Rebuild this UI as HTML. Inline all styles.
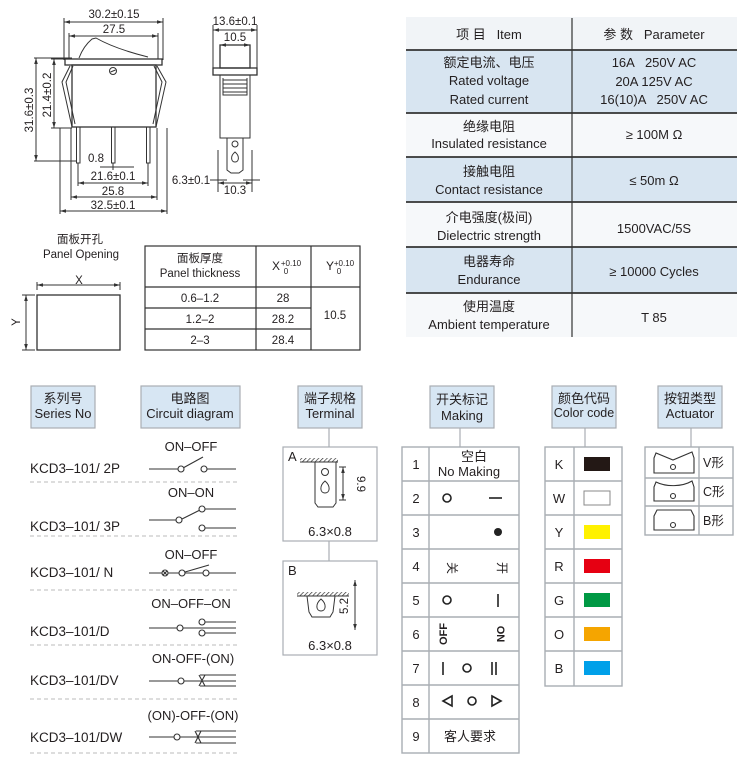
<!DOCTYPE html>
<html><head><meta charset="utf-8"><style>
html,body{margin:0;padding:0;background:#fff}
svg{display:block}
text{font-family:"Liberation Sans","Noto Sans CJK SC",sans-serif;fill:#231f20;white-space:pre}
</style></head><body>
<svg width="750" height="764" viewBox="0 0 750 764" xmlns="http://www.w3.org/2000/svg" xml:space="preserve">
<defs>
<marker id="ar" viewBox="0 0 10 10" refX="10" refY="5" markerWidth="6" markerHeight="6" orient="auto-start-reverse"><path d="M0,2 L10,5 L0,8 z" fill="#333"/></marker>
<pattern id="hatch" width="3" height="3" patternUnits="userSpaceOnUse" patternTransform="rotate(45)"><line x1="0" y1="0" x2="0" y2="3" stroke="#333" stroke-width="1.4"/></pattern>
</defs>

<!-- ============ front view drawing ============ -->
<g stroke="#333" stroke-width="1" fill="none">
 <line x1="64" y1="18" x2="64" y2="60"/><line x1="163" y1="18" x2="163" y2="60"/>
 <line x1="69" y1="33" x2="69" y2="59"/><line x1="158" y1="33" x2="158" y2="59"/>
 <line x1="64" y1="22" x2="163" y2="22" marker-start="url(#ar)" marker-end="url(#ar)"/>
 <line x1="69" y1="36" x2="158" y2="36" marker-start="url(#ar)" marker-end="url(#ar)"/>
 <path d="M79,58 C82,50 86,44 92,39 L96,38 C110,46 128,52 148,57"/>
 <rect x="65" y="59" width="97" height="6" stroke-width="1.3"/>
 <rect x="72" y="65" width="84" height="62" stroke-width="1.3"/>
 <circle cx="113" cy="71" r="3.5"/><line x1="110.5" y1="72" x2="115.5" y2="70"/>
 <path d="M70,66 L62,82 L72,127 M73,66 L66,82 L75,124"/>
 <path d="M157,66 L166,82 L156,127 M154,66 L162,82 L153,124"/>
 <rect x="76.5" y="127" width="3.5" height="36"/><rect x="111.5" y="127" width="3.5" height="36"/><rect x="146.5" y="127" width="3.5" height="36"/>
 <line x1="34" y1="58" x2="72" y2="58"/><line x1="34" y1="161" x2="77" y2="161"/>
 <line x1="51" y1="59" x2="64" y2="59"/><line x1="51" y1="128" x2="72" y2="128"/>
 <line x1="36" y1="58" x2="36" y2="161" marker-start="url(#ar)" marker-end="url(#ar)"/>
 <line x1="54" y1="59" x2="54" y2="128" marker-start="url(#ar)" marker-end="url(#ar)"/>
 <line x1="113" y1="163" x2="113" y2="170"/><line x1="148" y1="163" x2="148" y2="186"/><line x1="78" y1="163" x2="78" y2="186"/>
 <line x1="60" y1="128" x2="60" y2="214"/><line x1="167" y1="128" x2="167" y2="214"/>
 <line x1="71" y1="128" x2="71" y2="200"/><line x1="157" y1="128" x2="157" y2="200"/>
 <line x1="100" y1="167" x2="134" y2="167"/>
 <line x1="78" y1="183" x2="148" y2="183" marker-start="url(#ar)" marker-end="url(#ar)"/>
 <line x1="71" y1="197" x2="157" y2="197" marker-start="url(#ar)" marker-end="url(#ar)"/>
 <line x1="60" y1="211" x2="167" y2="211" marker-start="url(#ar)" marker-end="url(#ar)"/>
</g>
<g font-size="11.5" text-anchor="middle">
 <text x="114" y="18">30.2±0.15</text>
 <text x="114" y="33">27.5</text>
 <text x="96" y="162">0.8</text>
 <text x="113" y="180">21.6±0.1</text>
 <text x="113" y="195">25.8</text>
 <text x="113" y="209">32.5±0.1</text>
 <text transform="translate(33,110) rotate(-90)">31.6±0.3</text>
 <text transform="translate(51,95) rotate(-90)">21.4±0.2</text>
</g>

<!-- ============ side view ============ -->
<g stroke="#333" stroke-width="1" fill="none">
 <line x1="213" y1="25" x2="213" y2="70"/><line x1="257" y1="25" x2="257" y2="70"/>
 <line x1="213" y1="30" x2="257" y2="30" marker-start="url(#ar)" marker-end="url(#ar)"/>
 <line x1="220" y1="45" x2="250" y2="45" marker-start="url(#ar)" marker-end="url(#ar)"/>
 <rect x="220" y="45" width="30" height="23" stroke-width="1.3"/>
 <rect x="213" y="68" width="44" height="7" stroke-width="1.3"/>
 <path d="M220,75 L220,138 L250,138 L250,75"/>
 <path d="M223,78 L223,95 L247,95 L247,78"/>
 <line x1="223" y1="80" x2="247" y2="80"/><line x1="223" y1="84" x2="247" y2="84"/><line x1="223" y1="88" x2="247" y2="88"/><line x1="223" y1="92" x2="247" y2="92"/>
 <path d="M227,138 L227,170 L231,173 L239,173 L243,170 L243,138"/>
 <circle cx="235" cy="144" r="3"/>
 <path d="M235,152 C230,156 231,162 235,162 C239,162 240,156 235,152 z"/>
 <line x1="218" y1="150" x2="218" y2="192"/><line x1="252" y1="150" x2="252" y2="192"/>
 <line x1="210" y1="180" x2="227" y2="180"/><line x1="243" y1="180" x2="260" y2="180"/>
 <line x1="218" y1="183" x2="252" y2="183" marker-start="url(#ar)" marker-end="url(#ar)"/>
</g>
<g font-size="11.5" text-anchor="middle">
 <text x="235" y="25">13.6±0.1</text>
 <text x="235" y="41">10.5</text>
 <text x="191" y="184">6.3±0.1</text>
 <text x="235" y="194">10.3</text>
</g>

<!-- ============ panel opening ============ -->
<g font-size="11.5" text-anchor="middle">
 <text x="80" y="243">面板开孔</text>
 <text x="81" y="258">Panel Opening</text>
 <text x="79" y="284">X</text>
 <text transform="translate(20,322) rotate(-90)">Y</text>
</g>
<g stroke="#333" stroke-width="1" fill="none">
 <line x1="37" y1="282" x2="37" y2="290"/><line x1="120" y1="282" x2="120" y2="290"/>
 <line x1="37" y1="285" x2="120" y2="285" marker-start="url(#ar)" marker-end="url(#ar)"/>
 <line x1="22" y1="295" x2="35" y2="295"/><line x1="22" y1="350" x2="35" y2="350"/>
 <line x1="26" y1="295" x2="26" y2="350" marker-start="url(#ar)" marker-end="url(#ar)"/>
 <rect x="37" y="295" width="83" height="55" stroke-width="1.3"/>
</g>
<g stroke="#333" stroke-width="1.2" fill="none">
 <rect x="145" y="246" width="215" height="104"/>
 <line x1="256" y1="246" x2="256" y2="350"/><line x1="311" y1="246" x2="311" y2="350"/>
 <line x1="145" y1="287" x2="360" y2="287"/>
 <line x1="145" y1="308" x2="311" y2="308"/><line x1="145" y1="329" x2="311" y2="329"/>
</g>
<g font-size="11.5" text-anchor="middle">
 <text x="200" y="262">面板厚度</text>
 <text x="200" y="277">Panel thickness</text>
 <text x="276" y="270" font-size="12">X</text><text x="291" y="266" font-size="8">+0.10</text><text x="286" y="274" font-size="8">0</text>
 <text x="330" y="270" font-size="12">Y</text><text x="344" y="266" font-size="8">+0.10</text><text x="339" y="274" font-size="8">0</text>
 <text x="200" y="302">0.6–1.2</text><text x="283" y="302">28</text>
 <text x="200" y="323">1.2–2</text><text x="283" y="323">28.2</text>
 <text x="200" y="344">2–3</text><text x="283" y="344">28.4</text>
 <text x="335" y="319">10.5</text>
</g>

<!-- ============ spec table ============ -->
<g>
 <rect x="406" y="17" width="331" height="33" fill="#f1f4f7"/>
 <rect x="406" y="50" width="331" height="63" fill="#d8e5f1"/>
 <rect x="406" y="113" width="331" height="44" fill="#f6f8fa"/>
 <rect x="406" y="157" width="331" height="45" fill="#d8e5f1"/>
 <rect x="406" y="202" width="331" height="45" fill="#f6f8fa"/>
 <rect x="406" y="247" width="331" height="46" fill="#d8e5f1"/>
 <rect x="406" y="293" width="331" height="44" fill="#f6f8fa"/>
 <g stroke="#333" stroke-width="1.8">
  <line x1="406" y1="50" x2="737" y2="50"/><line x1="406" y1="113" x2="737" y2="113"/>
  <line x1="406" y1="157" x2="737" y2="157"/><line x1="406" y1="202" x2="737" y2="202"/>
  <line x1="406" y1="247" x2="737" y2="247"/><line x1="406" y1="293" x2="737" y2="293"/>
  <line x1="572" y1="18" x2="572" y2="337" stroke-width="1.2"/>
 </g>
 <g font-size="13" text-anchor="middle">
  <text x="489" y="39">项 目   Item</text>
  <text x="654" y="39">参 数   Parameter</text>
  <text x="489" y="67">额定电流、电压</text><text x="489" y="85">Rated voltage</text><text x="489" y="104">Rated current</text>
  <text x="654" y="67">16A   250V AC</text><text x="654" y="86">20A 125V AC</text><text x="654" y="104">16(10)A   250V AC</text>
  <text x="489" y="131">绝缘电阻</text><text x="489" y="148">Insulated resistance</text>
  <text x="654" y="139">≥ 100M Ω</text>
  <text x="489" y="176">接触电阻</text><text x="489" y="194">Contact resistance</text>
  <text x="654" y="185">≤ 50m Ω</text>
  <text x="489" y="222">介电强度(极间)</text><text x="489" y="240">Dielectric strength</text>
  <text x="654" y="233">1500VAC/5S</text>
  <text x="489" y="266">电器寿命</text><text x="489" y="284">Endurance</text>
  <text x="654" y="276">≥ 10000 Cycles</text>
  <text x="489" y="311">使用温度</text><text x="489" y="329">Ambient temperature</text>
  <text x="654" y="322">T 85</text>
 </g>
</g>

<!-- ============ bottom headers ============ -->
<g fill="#d7e6f3" stroke="#a9aeb3" stroke-width="1.2">
 <rect x="31" y="386" width="64" height="42"/>
 <rect x="141" y="386" width="99" height="42"/>
 <rect x="298" y="386" width="64" height="42"/>
 <rect x="430" y="386" width="64" height="42"/>
 <rect x="552" y="386" width="64" height="42"/>
 <rect x="658" y="386" width="64" height="42"/>
</g>
<g font-size="13" text-anchor="middle">
 <text x="63" y="403">系列号</text><text x="63" y="418">Series No</text>
 <text x="190" y="403">电路图</text><text x="190" y="418">Circuit diagram</text>
 <text x="330" y="403">端子规格</text><text x="330" y="418">Terminal</text>
 <text x="462" y="404">开关标记</text><text x="462" y="420">Making</text>
 <text x="584" y="403">颜色代码</text><text x="584" y="417" font-size="12.5">Color code</text>
 <text x="690" y="403">按钮类型</text><text x="690" y="418">Actuator</text>
</g>
<g stroke="#a9aeb3" stroke-width="1.2">
 <line x1="329" y1="428" x2="329" y2="447"/><line x1="329" y1="541" x2="329" y2="561"/>
 <line x1="460" y1="428" x2="460" y2="447"/>
 <line x1="585" y1="428" x2="585" y2="447"/>
 <line x1="691" y1="428" x2="691" y2="447"/>
</g>

<g font-size="13.5">
 <text x="30" y="473">KCD3–101/ 2P</text>
 <text x="30" y="531">KCD3–101/ 3P</text>
 <text x="30" y="577">KCD3–101/ N</text>
 <text x="30" y="636">KCD3–101/D</text>
 <text x="30" y="685">KCD3–101/DV</text>
 <text x="30" y="742">KCD3–101/DW</text>
</g>
<g font-size="13" text-anchor="middle">
 <text x="191" y="451">ON–OFF</text>
 <text x="191" y="497">ON–ON</text>
 <text x="191" y="559">ON–OFF</text>
 <text x="191" y="608">ON–OFF–ON</text>
 <text x="193" y="663">ON-OFF-(ON)</text>
 <text x="193" y="720">(ON)-OFF-(ON)</text>
</g>
<g stroke="#bbb" stroke-width="1" stroke-dasharray="4,3">
 <line x1="30" y1="482" x2="238" y2="482"/><line x1="30" y1="536" x2="238" y2="536"/>
 <line x1="30" y1="590" x2="238" y2="590"/><line x1="30" y1="645" x2="238" y2="645"/>
 <line x1="30" y1="699" x2="238" y2="699"/><line x1="30" y1="753" x2="238" y2="753"/>
</g>
<g stroke="#333" stroke-width="1.1" fill="#fff">
 <line x1="149" y1="469" x2="178" y2="469"/><line x1="183" y1="468" x2="203" y2="457"/><line x1="207" y1="469" x2="236" y2="469"/>
 <circle cx="181" cy="469" r="3"/><circle cx="204" cy="469" r="3"/>
 <line x1="149" y1="520" x2="176" y2="520"/><line x1="182" y1="519" x2="200" y2="510"/>
 <line x1="205" y1="509" x2="236" y2="509"/><line x1="205" y1="528" x2="236" y2="528"/>
 <circle cx="179" cy="520" r="3"/><circle cx="202" cy="509" r="3"/><circle cx="202" cy="528" r="3"/>
 <line x1="149" y1="573" x2="236" y2="573"/><line x1="185" y1="572" x2="209" y2="565"/>
 <circle cx="165" cy="573" r="3"/><line x1="163" y1="571" x2="167" y2="575"/><line x1="167" y1="571" x2="163" y2="575"/>
 <circle cx="182" cy="573" r="3"/><circle cx="206" cy="573" r="3"/>
 <line x1="149" y1="628" x2="236" y2="628"/><line x1="205" y1="622" x2="236" y2="622"/><line x1="205" y1="633" x2="236" y2="633"/>
 <circle cx="180" cy="628" r="3"/><circle cx="202" cy="622" r="3"/><circle cx="202" cy="633" r="3"/>
 <line x1="149" y1="681" x2="236" y2="681"/><line x1="200" y1="675" x2="236" y2="675"/><line x1="200" y1="686" x2="236" y2="686"/>
 <circle cx="181" cy="681" r="3"/><path d="M199,675 L205,686 M205,675 L199,686" fill="none"/>
 <line x1="149" y1="737" x2="236" y2="737"/><line x1="196" y1="731" x2="236" y2="731"/><line x1="196" y1="743" x2="236" y2="743"/>
 <circle cx="177" cy="737" r="3"/><path d="M195,731 L201,743 M201,731 L195,743" fill="none"/>
</g>

<g stroke="#a9aeb3" stroke-width="1.2" fill="#fff">
 <rect x="283" y="447" width="94" height="94"/>
 <rect x="283" y="561" width="94" height="94"/>
</g>
<g stroke="#333" stroke-width="1" fill="none">
 <rect x="300" y="458" width="38" height="4" fill="url(#hatch)" stroke="none"/>
 <line x1="300" y1="462" x2="338" y2="462"/>
 <path d="M315,462 L315,503 L318,507 L333,507 L336,503 L336,462"/>
 <circle cx="325" cy="472" r="3.5"/>
 <path d="M325,481 C319,486 320,493 325,493 C330,493 331,486 325,481 z"/>
 <line x1="339" y1="467" x2="346" y2="467"/><line x1="339" y1="500" x2="346" y2="500"/>
 <line x1="343" y1="467" x2="343" y2="500" marker-start="url(#ar)" marker-end="url(#ar)"/>
 <rect x="297" y="592" width="52" height="4" fill="url(#hatch)" stroke="none"/>
 <line x1="297" y1="596" x2="349" y2="596"/>
 <path d="M307,596 L309,612 L312,617 L330,617 L333,612 L335,596"/>
 <path d="M321,599 C315,604 316,611 321,611 C326,611 327,604 321,599 z"/>
 <line x1="355" y1="580" x2="355" y2="630" marker-start="url(#ar)" marker-end="url(#ar)"/>
</g>
<g font-size="13">
 <text x="288" y="461">A</text>
 <text x="288" y="575">B</text>
 <text x="330" y="536" text-anchor="middle">6.3×0.8</text>
 <text x="330" y="650" text-anchor="middle">6.3×0.8</text>
 <text transform="translate(357,484) rotate(90)" text-anchor="middle" font-size="11.5">9.9</text>
 <text transform="translate(348,606) rotate(-90)" text-anchor="middle" font-size="11.5">5.2</text>
</g>

<g stroke="#a9aeb3" stroke-width="1.4" fill="none">
 <rect x="402" y="447" width="117" height="306"/>
 <line x1="429" y1="447" x2="429" y2="753"/>
 <line x1="402" y1="481" x2="519" y2="481"/><line x1="402" y1="515" x2="519" y2="515"/>
 <line x1="402" y1="549" x2="519" y2="549"/><line x1="402" y1="583" x2="519" y2="583"/>
 <line x1="402" y1="617" x2="519" y2="617"/><line x1="402" y1="651" x2="519" y2="651"/>
 <line x1="402" y1="685" x2="519" y2="685"/><line x1="402" y1="719" x2="519" y2="719"/>
</g>
<g font-size="13" text-anchor="middle">
 <text x="416" y="469">1</text><text x="416" y="503">2</text><text x="416" y="537">3</text>
 <text x="416" y="571">4</text><text x="416" y="605">5</text><text x="416" y="639">6</text>
 <text x="416" y="673">7</text><text x="416" y="707">8</text><text x="416" y="741">9</text>
 <text x="474" y="461">空白</text><text x="469" y="476">No Making</text>
 <text x="470" y="741">客人要求</text>
 <text transform="translate(448,568) rotate(90)" text-anchor="middle" font-size="12">关</text>
 <text transform="translate(498,568) rotate(90)" text-anchor="middle" font-size="12">开</text>
 <text transform="translate(447,634) rotate(-90)" text-anchor="middle" font-size="11" font-weight="bold">OFF</text>
 <text transform="translate(497,634) rotate(90)" text-anchor="middle" font-size="11" font-weight="bold">ON</text>
</g>
<g stroke="#222" stroke-width="1.6" fill="none">
 <circle cx="447" cy="498" r="4"/><line x1="489" y1="498" x2="502" y2="498"/>
 <circle cx="498" cy="532" r="4" fill="#222" stroke="none"/>
 <circle cx="447" cy="600" r="4"/><line x1="498" y1="594" x2="498" y2="607"/>
 <line x1="443" y1="662" x2="443" y2="675"/><circle cx="467" cy="668" r="4"/><line x1="492" y1="662" x2="492" y2="675"/><line x1="496" y1="662" x2="496" y2="675"/>
 <path d="M452,696 L443,701 L452,706 z"/><circle cx="472" cy="701" r="4"/><path d="M492,696 L501,701 L492,706 z"/>
</g>

<g stroke="#a9aeb3" stroke-width="1.4" fill="none">
 <rect x="545" y="447" width="77" height="239"/>
 <line x1="574" y1="447" x2="574" y2="686"/>
 <line x1="545" y1="481" x2="622" y2="481"/><line x1="545" y1="515" x2="622" y2="515"/>
 <line x1="545" y1="549" x2="622" y2="549"/><line x1="545" y1="583" x2="622" y2="583"/>
 <line x1="545" y1="617" x2="622" y2="617"/><line x1="545" y1="651" x2="622" y2="651"/>
</g>
<g font-size="13" text-anchor="middle">
 <text x="559" y="469">K</text><text x="559" y="503">W</text><text x="559" y="537">Y</text>
 <text x="559" y="571">R</text><text x="559" y="605">G</text><text x="559" y="639">O</text><text x="559" y="673">B</text>
</g>
<rect x="584" y="457" width="26" height="14" fill="#231815"/>
<rect x="584" y="491" width="26" height="14" fill="#fff" stroke="#888"/>
<rect x="584" y="525" width="26" height="14" fill="#fff100"/>
<rect x="584" y="559" width="26" height="14" fill="#e60012"/>
<rect x="584" y="593" width="26" height="14" fill="#009944"/>
<rect x="584" y="627" width="26" height="14" fill="#f5a500"/>
<rect x="584" y="661" width="26" height="14" fill="#00a0e9"/>

<g stroke="#a9aeb3" stroke-width="1.4" fill="none">
 <rect x="645" y="447" width="88" height="88"/>
 <line x1="699" y1="447" x2="699" y2="535"/>
 <line x1="645" y1="478" x2="733" y2="478"/><line x1="645" y1="506" x2="733" y2="506"/>
</g>
<g stroke="#333" stroke-width="1.1" fill="none">
 <path d="M654,473 L654,458 L656,453 L673,460 L692,452 L694,458 L694,473 z"/>
 <circle cx="673" cy="467" r="2.5"/>
 <path d="M654,501 L654,487 L656,482 C666,487 682,487 692,481 L694,487 L694,501 z"/>
 <circle cx="673" cy="496" r="2.5"/>
 <path d="M654,530 L654,516 L657,510 L691,510 L694,516 L694,530 z"/>
 <circle cx="673" cy="525" r="2.5"/>
</g>
<g font-size="12.5">
 <text x="703" y="467">V形</text><text x="703" y="496">C形</text><text x="703" y="525">B形</text>
</g>
</svg>
</body></html>
